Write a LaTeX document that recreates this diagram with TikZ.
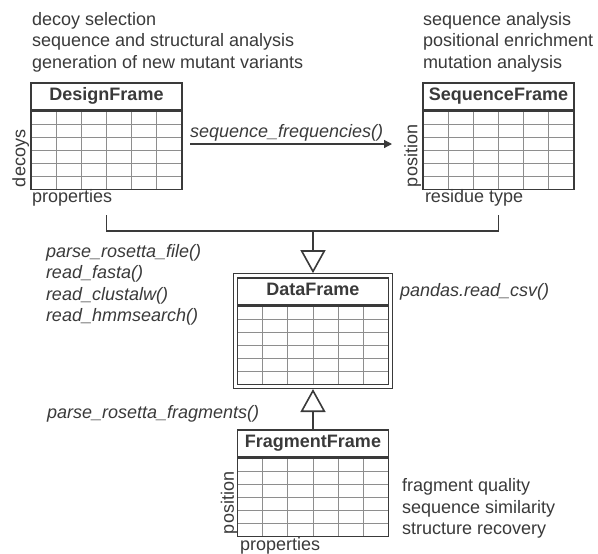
\documentclass[tikz,border=0pt]{standalone}
\usepackage{fontspec}
\setmainfont{Liberation Sans}
\usetikzlibrary{arrows.meta,calc,fit}
\definecolor{ink}{HTML}{3A3A3A}
\definecolor{gridc}{HTML}{8E8E8E}
\newcommand{\fsz}{\fontsize{18}{21.5}\selectfont}
\tikzset{
  txt/.style={inner sep=0pt, outer sep=0pt, text=ink, font=\fsz, align=left, anchor=base west},
  itxt/.style={txt, font=\fsz\itshape},
  rotlab/.style={inner sep=0pt, outer sep=0pt, text=ink, font=\fsz, rotate=90, anchor=south west},
  titlebox/.style={draw=ink, line width=1.6pt, minimum width=151pt, minimum height=27pt,
    inner sep=0pt, text height=12.9pt, text depth=3.8pt, anchor=north, text=ink, font=\fsz\bfseries},
  gridbox/.style={draw=ink, line width=1.6pt, minimum width=151pt, minimum height=78pt,
    inner sep=0pt, anchor=north,
    path picture={
      \foreach \k in {1,...,5}{
        \draw[gridc, line width=0.8pt]
          ($(path picture bounding box.south west)!\k/6!(path picture bounding box.south east)$) --
          ($(path picture bounding box.north west)!\k/6!(path picture bounding box.north east)$);
        \draw[gridc, line width=0.8pt]
          ($(path picture bounding box.south west)!\k/6!(path picture bounding box.north west)$) --
          ($(path picture bounding box.south east)!\k/6!(path picture bounding box.north east)$);
      }
    }},
  conn/.style={draw=ink, line width=1.6pt},
  openhead/.style={-{Triangle[open, length=23pt, width=25pt]}},
}
\begin{document}
\begin{tikzpicture}[x=1pt,y=1pt]
  \path[fill=white,use as bounding box] (0,0) rectangle (598,-554);

  % top description texts (base = baseline of last line)
  \node[txt] (dtxt) at (32,-68) {decoy selection\\sequence and structural analysis\\generation of new mutant variants};
  \node[txt] (stxt) at (423,-68) {sequence analysis\\positional enrichment\\mutation analysis};

  % DesignFrame
  \node[titlebox] (dtitle) at (106.5,-82) {DesignFrame};
  \node[gridbox] (dgrid) at (dtitle.south) {};
  \node[rotlab] (dlab) at (29,-187) {decoys};
  \node[txt] (dprop) at (32,-202) {properties};

  % SequenceFrame
  \node[titlebox] (stitle) at (498.5,-82) {SequenceFrame};
  \node[gridbox] (sgrid) at (stitle.south) {};
  \node[rotlab] (slab) at (421,-187) {position};
  \node[txt] (sprop) at (425,-202) {residue type};

  % sequence_frequencies arrow
  \coordinate (sfA) at (190,-144);
  \coordinate (sfB) at (392,-144);
  \draw[draw=ink, line width=1.2pt, -{Triangle[length=8pt, width=8pt]}] (sfA) -- (sfB);
  \node[itxt] (sflab) at (190,-137.5) {sequence\_frequencies()};

  % DataFrame
  \node[titlebox] (atitle) at (313,-277) {DataFrame};
  \node[gridbox] (agrid) at (atitle.south) {};
  \node[draw=ink, line width=1.3pt, inner sep=3.2pt, fit=(atitle)(agrid)] (aouter) {};
  \node[itxt] (readers) at (46,-321.5) {parse\_rosetta\_file()\\read\_fasta()\\read\_clustalw()\\read\_hmmsearch()};
  \node[itxt] (pandas) at (400,-296) {pandas.read\_csv()};

  % FragmentFrame
  \node[titlebox] (ftitle) at (313,-429) {FragmentFrame};
  \node[gridbox] (fgrid) at (ftitle.south) {};
  \node[rotlab] (flab) at (237.5,-534) {position};
  \node[txt] (fprop) at (240,-550) {properties};
  \node[itxt] (fread) at (47,-418.5) {parse\_rosetta\_fragments()};
  \node[txt] (ftxt) at (402,-534.5) {fragment quality\\sequence similarity\\structure recovery};

  % inheritance connectors
  \coordinate (dl) at ($(dgrid.south)+(0,-25)$);
  \coordinate (sl) at ($(sgrid.south)+(0,-25)$);
  \coordinate (dj) at ($(dl)+(0,-16)$);
  \coordinate (sj) at ($(sl)+(0,-16)$);
  \coordinate (mj) at (dj -| aouter.north);
  \draw[conn] (dl) -- (dj) -- (sj) -- (sl);
  \draw[conn, openhead] (mj) -- (aouter.north);
  \draw[conn, openhead] (ftitle.north) -- (aouter.south);
\end{tikzpicture}
\end{document}
